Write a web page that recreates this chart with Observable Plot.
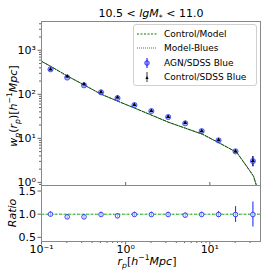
<!DOCTYPE html>
<html><head><meta charset="utf-8">
<script src="https://cdn.jsdelivr.net/npm/d3@7"></script>
<script src="https://cdn.jsdelivr.net/npm/@observablehq/plot@0.6"></script>
<style>
body{margin:0;background:#fff;font-family:"DejaVu Sans",sans-serif;}
#wrap{position:relative;width:274px;height:274px;overflow:hidden;}
#wrap svg{position:absolute;left:0;}
.lbl{position:absolute;white-space:nowrap;color:#000;line-height:1;}
sub,sup{font-size:70%;line-height:0;}
#legend{position:absolute;left:133px;top:24px;width:122px;height:60px;border:1px solid #d0d0d0;border-radius:3px;background:rgba(255,255,255,0.85);font-size:9px;}
#legend .row{position:absolute;left:3px;height:12px;display:flex;align-items:center;}
#legend .row span{margin-left:7px;}
</style></head>
<body>
<div id="wrap"></div>
<script>
// projected separation bins (h^-1 Mpc)
const rp = [0.128, 0.202, 0.32, 0.51, 0.80, 1.27, 2.02, 3.2, 5.1, 8.0, 12.7, 20.2, 32.5];
// AGN / SDSS Blue wp(rp)
const agnWp = [370, 240, 160, 111, 82, 57, 41.7, 30.5, 21.9, 14.6, 9.0, 5.07, 3.05];
const agnErr = [18, 12, 8, 6, 4, 3, 2, 1.6, 1.2, 0.9, 0.6, 0.45, 0.8];
// Control / SDSS Blue wp(rp)
const ctrlWp = [370, 255, 170, 112, 85, 57.5, 42, 30.8, 22.4, 14.7, 9.1, 5.1, 3.08];
const ctrlErr = [18, 12, 8, 6, 4, 3, 2, 1.6, 1.2, 0.9, 0.6, 0.45, 0.8];
// ratio AGN / Control
const ratio = [1.00, 0.942, 0.942, 0.993, 0.964, 0.993, 0.993, 0.993, 0.978, 0.993, 0.993, 0.993, 0.993];
const ratioErr = [0.05, 0.05, 0.05, 0.05, 0.05, 0.05, 0.05, 0.05, 0.05, 0.05, 0.065, 0.17, 0.27];
// model curves
const modelRp = [0.1, 0.128, 0.206, 0.327, 0.514, 0.818, 1.30, 2.08, 3.27, 5.18, 8.26, 13.2, 20.9, 29.1, 33.1, 37.3];
const modelControl = [562, 433, 256, 160, 100, 69, 48, 33, 23, 16.9, 12.3, 7.7, 4.8, 1.97, 1.37, 0.66];
const modelBlues = [562, 433, 256, 160, 100, 69, 48, 33, 23, 16.9, 12.3, 7.7, 4.8, 1.97, 1.37, 0.66];
// tick labels
const xMajor = [0.1, 1, 10];
const yMajor = [1, 10, 100, 1000];
const ratioTicks = [0.5, 1.0, 1.5];

const supMap = {"-":"⁻","0":"⁰","1":"¹","2":"²","3":"³","4":"⁴","5":"⁵","6":"⁶","7":"⁷","8":"⁸","9":"⁹"};
const pow = d => "10" + String(Math.round(Math.log10(d))).split("").map(c => supMap[c]).join("");
const minorOf = (lo, hi) => { const out = []; for (let e = -2; e <= 4; e++) for (let m = 2; m <= 9; m++) { const v = m * 10 ** e; if (v > lo && v < hi) out.push(v); } return out; };

const idx = d3.range(rp.length);
const xDom = [0.1, 40];
const common = {width: 274, marginLeft: 41, marginRight: 14,
  style: {background: "transparent", fontFamily: "DejaVu Sans", fontSize: "11px", color: "black", overflow: "visible"}};

const main = Plot.plot({
  ...common, height: 186, marginTop: 21, marginBottom: 1,
  x: {type: "log", domain: xDom, axis: null},
  y: {type: "log", domain: [0.85, 4500]},
  marks: [
    Plot.axisY(yMajor, {tickSize: 3.5, tickPadding: 2, tickFormat: pow, stroke: "#666"}),
    Plot.axisY(minorOf(0.85, 4500), {tickSize: 2, tickFormat: () => "", stroke: "#666"}),
    Plot.tickX(xMajor.filter(v => v > 0.1), {x: d => d, insetTop: 161, stroke: "#666"}),
    Plot.line(d3.range(modelRp.length), {x: i => modelRp[i], y: i => modelControl[i], stroke: "#008000", strokeWidth: 1, strokeDasharray: "3,1.5", clip: true}),
    Plot.line(d3.range(modelRp.length), {x: i => modelRp[i], y: i => modelBlues[i], stroke: "#222", strokeWidth: 0.7, strokeDasharray: "1,1.5", clip: true}),
    Plot.ruleX(idx, {x: i => rp[i], y1: i => agnWp[i] - agnErr[i], y2: i => agnWp[i] + agnErr[i], stroke: "blue", strokeWidth: 1}),
    Plot.ruleX(idx, {x: i => rp[i], y1: i => ctrlWp[i] - ctrlErr[i], y2: i => ctrlWp[i] + ctrlErr[i], stroke: "black", strokeWidth: 0.8}),
    Plot.dot(idx, {x: i => rp[i], y: i => agnWp[i], r: 2.6, fill: "#5a6aff", fillOpacity: 0.55, stroke: "#2233ff", strokeWidth: 0.7}),
    Plot.dot(idx, {x: i => rp[i], y: i => ctrlWp[i], symbol: "triangle", r: 1.5, fill: "black"}),
    Plot.frame({stroke: "#888"})
  ]
});
main.style.top = "0px";

const rat = Plot.plot({
  ...common, height: 90, marginTop: 1, marginBottom: 33,
  x: {type: "log", domain: xDom},
  y: {domain: [0.41, 1.62]},
  marks: [
    Plot.axisY(ratioTicks, {tickSize: 3.5, tickPadding: 2, tickFormat: d3.format(".1f"), stroke: "#666"}),
    Plot.axisX(xMajor, {tickSize: 3.5, tickPadding: 0, tickFormat: pow, stroke: "#666"}),
    Plot.axisX(minorOf(0.1, 40), {tickSize: 2, tickFormat: () => "", stroke: "#666"}),
    Plot.ruleY([1], {stroke: "#22bb22", strokeWidth: 1, strokeDasharray: "3,1.5"}),
    Plot.ruleY([1], {stroke: "#333", strokeWidth: 0.6, strokeDasharray: "1,2", strokeOpacity: 0.5}),
    Plot.ruleX(idx, {x: i => rp[i], y1: i => ratio[i] - ratioErr[i], y2: i => ratio[i] + ratioErr[i], stroke: "#2233ff", strokeWidth: 1.1}),
    Plot.dot(idx, {x: i => rp[i], y: i => ratio[i], r: 2.3, fill: "white", fillOpacity: 0.6, stroke: "#2233ff", strokeWidth: 0.9}),
    Plot.frame({stroke: "#888"})
  ]
});
rat.style.top = "184px";

const wrap = document.getElementById("wrap");
wrap.append(main, rat);

const legend = document.createElement("div");
legend.id = "legend";
const sample = (kind) => {
  if (kind === "green") return `<svg width="20" height="8" style="position:static"><line x1="0" y1="4" x2="20" y2="4" stroke="#008000" stroke-dasharray="2,1.5"/></svg>`;
  if (kind === "black") return `<svg width="20" height="8" style="position:static"><line x1="0" y1="4" x2="20" y2="4" stroke="#222" stroke-width="0.7" stroke-dasharray="1,1"/></svg>`;
  if (kind === "agn") return `<svg width="20" height="12" style="position:static"><line x1="10" y1="1" x2="10" y2="11" stroke="blue"/><circle cx="10" cy="6" r="2.3" fill="#5a6aff" fill-opacity="0.5" stroke="blue" stroke-width="0.7"/></svg>`;
  return `<svg width="20" height="12" style="position:static"><line x1="10" y1="1" x2="10" y2="11" stroke="black" stroke-width="0.8"/><path d="M10,5 L11.6,8 L8.4,8 Z" fill="black"/></svg>`;
};
const rows = [["green", "Control/Model"], ["black", "Model-Blues"], ["agn", "AGN/SDSS Blue"], ["ctrl", "Control/SDSS Blue"]];
legend.innerHTML = rows.map((r, k) => `<div class="row" style="top:${3 + k * 14.4}px">${sample(r[0])}<span>${r[1]}</span></div>`).join("");
wrap.append(legend);

const addLbl = (html, css) => { const d = document.createElement("div"); d.className = "lbl"; d.innerHTML = html; Object.assign(d.style, css); wrap.append(d); };
addLbl(`10.5 &lt; <i>lgM</i><sub>*</sub> &lt; 11.0`, {left: "151px", top: "8px", fontSize: "11px", transform: "translateX(-50%)"});
addLbl(`<i>w<sub>p</sub></i>(<i>r<sub>p</sub></i>)[<i>h</i><sup>−1</sup><i>Mpc</i>]`, {left: "13px", top: "106px", fontSize: "11px", transform: "translate(-50%,-50%) rotate(-90deg)"});
addLbl(`<i>Ratio</i>`, {left: "12px", top: "213px", fontSize: "11px", transform: "translate(-50%,-50%) rotate(-90deg)"});
addLbl(`<i>r<sub>p</sub></i>[<i>h</i><sup>−1</sup><i>Mpc</i>]`, {left: "147px", top: "256px", fontSize: "11px", transform: "translateX(-50%)"});
</script>
</body></html>
